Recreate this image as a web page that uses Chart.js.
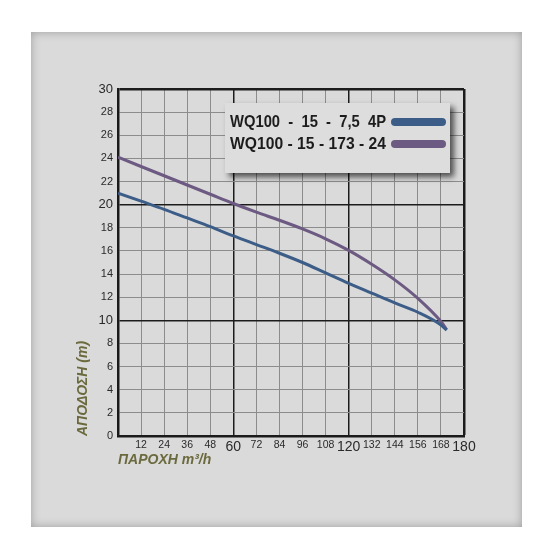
<!DOCTYPE html>
<html><head><meta charset="utf-8">
<script src="https://cdn.jsdelivr.net/npm/chart.js@4/dist/chart.umd.min.js"></script>
<style>
html,body{margin:0;padding:0;background:#fff;width:550px;height:550px;overflow:hidden}
#panel{position:absolute;left:31px;top:32px;width:491px;height:495px;background:#dadada;box-shadow:inset 0 0 10px rgba(0,0,0,0.28)}
#wrap{position:absolute;left:0;top:0;width:550px;height:550px}
</style></head><body>
<div id="panel"></div>
<div id="wrap"><canvas id="c" width="550" height="550"></canvas></div>
<script>
// ---- data ----
const flowRates   = [0, 12, 24, 36, 48, 60, 72, 84, 96, 108, 120, 132, 144, 156, 168, 171];
const headSeries1 = [21.0, 20.3, 19.6, 18.85, 18.1, 17.3, 16.55, 15.8, 15.0, 14.1, 13.2, 12.35, 11.5, 10.7, 9.6, 9.15];
const headSeries2 = [24.1, 23.3, 22.5, 21.7, 20.9, 20.1, 19.35, 18.65, 17.9, 17.05, 16.05, 14.85, 13.5, 11.9, 9.9, 9.2];
const seriesLabels = ['WQ100  -  15  -  7,5  4P', 'WQ100 - 15 - 173 - 24'];
const seriesColors = ['#3c5d88', '#6c5a82'];
const xMajor = [60, 120, 180];
const yMajor = [10, 20, 30];
const xTitle = 'ΠΑΡΟΧΗ m³/h';
const yTitle = 'ΑΠΟΔΟΣΗ (m)';

const toPts = (ys) => flowRates.map((x, i) => ({x: x, y: ys[i]}));

const legendBox = {
  id: 'legendBox',
  afterDatasetsDraw(chart) {
    const ctx = chart.ctx;
    ctx.save();
    ctx.shadowColor = 'rgba(0,0,0,0.65)';
    ctx.shadowBlur = 6;
    ctx.shadowOffsetX = 4;
    ctx.shadowOffsetY = 4;
    ctx.fillStyle = '#dddddd';
    ctx.fillRect(225, 103, 225, 70);
    ctx.restore();
    ctx.save();
    ctx.font = 'bold 17px "Liberation Sans", sans-serif';
    ctx.textBaseline = 'middle';
    ctx.textAlign = 'left';
    const rows = [122, 144];
    chart.data.datasets.forEach((ds, i) => {
      ctx.fillStyle = '#1c1c1c';
      ctx.fillText(ds.label, 230, rows[i], 156);
      ctx.strokeStyle = ds.borderColor;
      ctx.lineWidth = 8;
      ctx.lineCap = 'round';
      ctx.beginPath();
      ctx.moveTo(395, rows[i]);
      ctx.lineTo(442, rows[i]);
      ctx.stroke();
    });
    ctx.restore();
  }
};

new Chart(document.getElementById('c'), {
  type: 'line',
  data: {
    datasets: [
      {label: seriesLabels[0], data: toPts(headSeries1), borderColor: seriesColors[0], borderWidth: 3, pointRadius: 0, cubicInterpolationMode: 'monotone', fill: false},
      {label: seriesLabels[1], data: toPts(headSeries2), borderColor: seriesColors[1], borderWidth: 3, pointRadius: 0, cubicInterpolationMode: 'monotone', fill: false}
    ]
  },
  options: {
    responsive: false,
    animation: false,
    layout: {padding: {top: 89, right: 86, left: 0, bottom: 74}},
    plugins: {legend: {display: false}, tooltip: {enabled: false}},
    scales: {
      x: {
        type: 'linear', min: 0, max: 180,
        afterFit: (s) => { s.height = 40; },
        ticks: {
          stepSize: 12, padding: 3, color: '#2a2a2a', autoSkip: false, maxRotation: 0, minRotation: 0,
          callback: (v) => v === 0 ? '' : String(v),
          font: (c) => ({family: '"Liberation Sans", sans-serif', size: xMajor.includes(c.tick && c.tick.value) ? 14 : 10.5})
        },
        grid: {
          drawTicks: false,
          color: (c) => xMajor.includes(c.tick && c.tick.value) ? '#1c1c1c' : '#8c8c8c',
          lineWidth: (c) => (c.tick && c.tick.value === 180) ? 2.5 : (xMajor.includes(c.tick && c.tick.value) ? 1.5 : 1)
        },
        border: {color: '#1a1a1a', width: 2.5},
        title: {display: true, text: xTitle, align: 'start', color: '#6b6a3e',
          font: {family: '"Liberation Sans", sans-serif', size: 14, weight: 'bold', style: 'italic'},
          padding: {top: 0, bottom: 7}}
      },
      y: {
        min: 0, max: 30,
        afterFit: (s) => { s.width = 118; },
        ticks: {
          stepSize: 2, padding: 5, color: '#2a2a2a',
          font: (c) => ({family: '"Liberation Sans", sans-serif', size: yMajor.includes(c.tick && c.tick.value) ? 13 : 11})
        },
        grid: {
          drawTicks: false,
          color: (c) => yMajor.includes(c.tick && c.tick.value) ? '#1c1c1c' : '#8c8c8c',
          lineWidth: (c) => (c.tick && c.tick.value === 30) ? 2.5 : (yMajor.includes(c.tick && c.tick.value) ? 1.5 : 1)
        },
        border: {color: '#1a1a1a', width: 2.5},
        title: {display: true, text: yTitle, align: 'start', color: '#6b6a3e',
          font: {family: '"Liberation Sans", sans-serif', size: 14, weight: 'bold', style: 'italic'},
          padding: {top: 75, bottom: 0}}
      }
    }
  },
  plugins: [legendBox]
});
</script>
</body></html>
